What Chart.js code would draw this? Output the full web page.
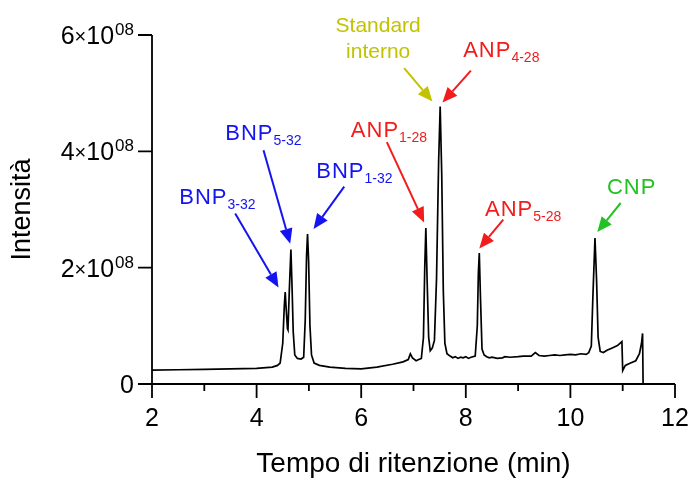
<!DOCTYPE html>
<html><head><meta charset="utf-8">
<script src="https://cdn.jsdelivr.net/npm/chart.js@4.4.0/dist/chart.umd.min.js"></script>
<style>html,body{margin:0;padding:0;background:#fff}#wrap{width:700px;height:482px}</style>
</head><body><div id="wrap"><canvas id="c" width="700" height="482"></canvas></div>
<script>
// Retention time (min)
const times = [2.00,2.50,3.00,3.50,4.00,4.30,4.40,4.45,4.50,4.53,4.547,4.565,4.59,4.60,4.625,4.656,4.68,4.70,4.73,4.78,4.85,4.90,4.93,4.955,4.974,4.995,5.02,5.05,5.10,5.20,5.40,5.70,6.00,6.30,6.60,6.80,6.90,6.94,6.98,7.05,7.10,7.15,7.19,7.215,7.236,7.26,7.29,7.32,7.36,7.40,7.44,7.48,7.51,7.54,7.57,7.60,7.64,7.70,7.75,7.80,7.85,7.90,7.95,8.00,8.05,8.10,8.18,8.22,8.24,8.258,8.28,8.31,8.35,8.40,8.45,8.50,8.60,8.70,8.75,8.85,9.00,9.10,9.25,9.33,9.40,9.50,9.60,9.70,9.80,9.90,10.00,10.10,10.20,10.30,10.35,10.40,10.43,10.47,10.50,10.53,10.57,10.63,10.70,10.80,10.90,10.985,11.00,11.05,11.15,11.25,11.32,11.36,11.38,11.39];
// Intensity (x 1e8)
const intensity = [0.24,0.245,0.25,0.26,0.27,0.29,0.32,0.36,0.70,1.35,1.58,1.30,0.95,0.93,1.60,2.31,1.60,0.90,0.50,0.44,0.43,0.46,1.10,2.20,2.58,2.10,1.00,0.50,0.36,0.32,0.29,0.27,0.26,0.29,0.34,0.38,0.42,0.52,0.45,0.40,0.42,0.44,0.80,2.00,2.68,1.80,0.80,0.57,0.62,0.75,1.80,3.80,4.77,3.60,1.60,0.70,0.52,0.48,0.45,0.47,0.44,0.46,0.45,0.47,0.44,0.46,0.48,1.00,1.90,2.25,1.50,0.60,0.50,0.47,0.45,0.46,0.44,0.45,0.47,0.46,0.47,0.48,0.48,0.54,0.49,0.48,0.49,0.50,0.49,0.50,0.51,0.50,0.52,0.51,0.54,0.65,1.50,2.51,1.80,0.80,0.56,0.54,0.58,0.62,0.66,0.73,0.23,0.32,0.36,0.40,0.52,0.70,0.87,0.00];
const xTickLabels = ['2','4','6','8','10','12'];
const xTickValues = [2,4,6,8,10,12];
const xMinorValues = [3,5,7,9,11];
const yTickValues = [0,2,4,6];
const yTickMantissa = ['0','2','4','6'];
const yExponent = '08';
const xTitle = 'Tempo di ritenzione (min)';
const yTitle = 'Intensità';

// Peak annotations: label, subscript, colour, peak retention time
const annLabels = ['BNP','BNP','BNP','ANP','Standard|interno','ANP','ANP','CNP'];
const annSubs   = ['3-32','5-32','1-32','1-28','','4-28','5-28',''];
const annPeaks  = [4.547,4.656,4.974,7.236,7.51,7.51,8.258,10.47];
const BLUE='#1414f0', RED='#f21c1c', YEL='#c2c200', GRN='#22c222';
const annColors = [BLUE,BLUE,BLUE,RED,YEL,RED,RED,GRN];
// pixel offsets from peak apex: tip, tail, label anchor
const annGeom = [
  {tip:[-6.7,-4.7], tail:[-50,-78.7], lab:[-106,-87.7]},
  {tip:[-0.7,-6], tail:[-27.4,-99.3], lab:[-65.7,-109.3]},
  {tip:[6,-5], tail:[36.7,-47.3], lab:[8.7,-56.3]},
  {tip:[-1.7,-5.7], tail:[-39,-86], lab:[-75,-90.7]},
  {tip:[-7.7,-5], tail:[-36,-38.4], lab:[-62,-74.5]},
  {tip:[2.3,-4], tail:[30.7,-36], lab:[23,-49.7]},
  {tip:[0,-4.7], tail:[24,-33.4], lab:[5.7,-36.7]},
  {tip:[2.3,-6], tail:[25.7,-35], lab:[12,-43.7]}
];

const FONT = '"Liberation Sans", Arial, Helvetica, sans-serif';

function peakValue(t){
  let best=0;
  for(let i=0;i<times.length;i++){ if(Math.abs(times[i]-t)<0.02 && intensity[i]>best) best=intensity[i]; }
  return best;
}

function arrow(ctx,x0,y0,x1,y1,color){
  const ang=Math.atan2(y1-y0,x1-x0), L=15, W=6.5;
  const bx=x1-L*Math.cos(ang), by=y1-L*Math.sin(ang);
  ctx.strokeStyle=color; ctx.fillStyle=color; ctx.lineWidth=2;
  ctx.beginPath(); ctx.moveTo(x0,y0); ctx.lineTo(bx,by); ctx.stroke();
  ctx.beginPath(); ctx.moveTo(x1,y1);
  ctx.lineTo(bx+W*Math.sin(ang), by-W*Math.cos(ang));
  ctx.lineTo(bx-W*Math.sin(ang), by+W*Math.cos(ang));
  ctx.closePath(); ctx.fill();
}

const deco = {
  id:'deco',
  afterDraw(chart){
    const ctx=chart.ctx, xs=chart.scales.x, ys=chart.scales.y;
    const L=xs.getPixelForValue(2), R=xs.getPixelForValue(12);
    const T=ys.getPixelForValue(6), B=ys.getPixelForValue(0);
    ctx.save();
    ctx.strokeStyle='#000'; ctx.lineWidth=1.8; ctx.lineCap='butt';
    ctx.beginPath(); ctx.moveTo(L,T); ctx.lineTo(L,B); ctx.moveTo(L,B); ctx.lineTo(R,B); ctx.stroke();
    ctx.beginPath();
    xTickValues.forEach(v=>{const x=xs.getPixelForValue(v); ctx.moveTo(x,B); ctx.lineTo(x,B+14);});
    xMinorValues.forEach(v=>{const x=xs.getPixelForValue(v); ctx.moveTo(x,B); ctx.lineTo(x,B+7);});
    yTickValues.forEach(v=>{const y=ys.getPixelForValue(v); ctx.moveTo(L,y); ctx.lineTo(L-14,y);});
    ctx.stroke();
    // x tick labels
    ctx.fillStyle='#000'; ctx.textAlign='center'; ctx.textBaseline='alphabetic';
    ctx.font='25px '+FONT;
    xTickValues.forEach((v,i)=>{ ctx.fillText(xTickLabels[i], xs.getPixelForValue(v), B+42); });
    // y tick labels with superscript
    yTickValues.forEach((v,i)=>{
      const y=ys.getPixelForValue(v)+9, right=L-18;
      if(v===0){ ctx.textAlign='right'; ctx.font='25px '+FONT; ctx.fillText('0',right,y); return; }
      ctx.textAlign='left';
      const fm='25px '+FONT, fx='20px '+FONT, fs='17px '+FONT;
      ctx.font=fm; const wm=ctx.measureText(yTickMantissa[i]).width, w10=ctx.measureText('10').width;
      ctx.font=fx; const wx=ctx.measureText('×').width;
      ctx.font=fs; const we=ctx.measureText(yExponent).width;
      let x=right-(wm+wx+w10+we+1);
      ctx.font=fm; ctx.fillText(yTickMantissa[i],x,y); x+=wm;
      ctx.font=fx; ctx.fillText('×',x,y-1); x+=wx;
      ctx.font=fm; ctx.fillText('10',x,y); x+=w10+1;
      ctx.font=fs; ctx.fillText(yExponent,x,y-9);
    });
    // axis titles
    ctx.textAlign='center'; ctx.font='28px '+FONT;
    ctx.fillText(xTitle,(L+R)/2,B+88);
    ctx.font='27px '+FONT;
    ctx.save(); ctx.translate(30,(T+B)/2); ctx.rotate(-Math.PI/2); ctx.fillText(yTitle,0,0); ctx.restore();
    // annotations
    annLabels.forEach((lab,i)=>{
      const px=xs.getPixelForValue(annPeaks[i]), py=ys.getPixelForValue(peakValue(annPeaks[i]));
      const g=annGeom[i], col=annColors[i];
      arrow(ctx,px+g.tail[0],py+g.tail[1],px+g.tip[0],py+g.tip[1],col);
      ctx.fillStyle=col;
      if(lab.includes('|')){
        const parts=lab.split('|'); ctx.textAlign='center'; ctx.font='21px '+FONT;
        ctx.fillText(parts[0],px+g.lab[0],py+g.lab[1]);
        ctx.fillText(parts[1],px+g.lab[0],py+g.lab[1]+26);
      } else {
        ctx.textAlign='left'; ctx.font='22px '+FONT;
        try{ ctx.letterSpacing='1px'; }catch(e){}
        ctx.fillText(lab,px+g.lab[0],py+g.lab[1]);
        const w=ctx.measureText(lab).width;
        try{ ctx.letterSpacing='0px'; }catch(e){}
        if(annSubs[i]){ ctx.font='14px '+FONT; ctx.fillText(annSubs[i],px+g.lab[0]+w,py+g.lab[1]+5); }
      }
    });
    ctx.restore();
  }
};

new Chart(document.getElementById('c'),{
  type:'line',
  data:{datasets:[{data:times.map((t,i)=>({x:t,y:intensity[i]})),borderColor:'#000',borderWidth:1.7,pointRadius:0,tension:0,fill:false}]},
  options:{
    responsive:false, animation:false, devicePixelRatio:1,
    layout:{padding:{left:152,top:35,right:25,bottom:98}},
    plugins:{legend:{display:false},tooltip:{enabled:false}},
    scales:{
      x:{type:'linear',min:2,max:12,display:false},
      y:{type:'linear',min:0,max:6,display:false}
    }
  },
  plugins:[deco]
});
</script></body></html>
